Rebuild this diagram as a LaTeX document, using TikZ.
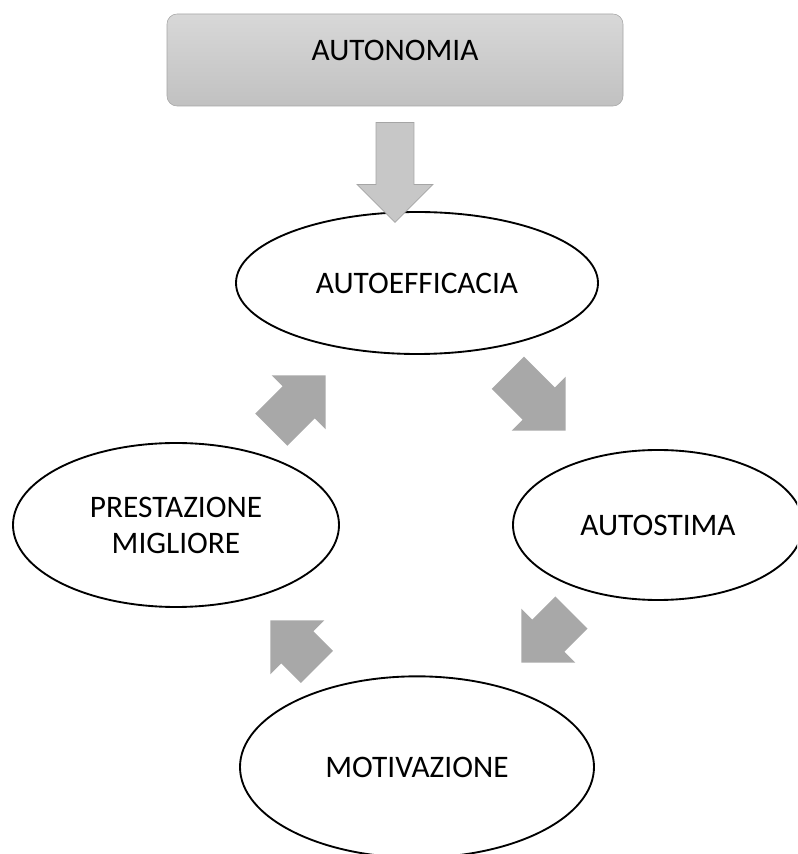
\documentclass[tikz,border=0pt]{standalone}
\usepackage{fontspec}
\setmainfont{Carlito}
\usepackage{tikz}
\usetikzlibrary{shapes.geometric}
\usetikzlibrary{shapes.arrows}
\definecolor{arrowgray}{RGB}{168,168,168}
\definecolor{downgray}{RGB}{199,199,199}
\definecolor{boxtop}{RGB}{216,216,216}
\definecolor{boxbottom}{RGB}{193,193,193}
\definecolor{boxline}{RGB}{165,165,165}

\begin{document}
\begin{tikzpicture}[x=0.75pt,y=0.75pt,
    stage/.style={draw,ellipse,line width=1.4pt,fill=white,inner sep=0pt,align=center,font=\fontsize{23.5}{27}\selectfont},
    cyclearrow/.style={single arrow,fill=arrowgray,anchor=tip,inner xsep=0pt,inner ysep=16.9pt,single arrow head extend=11.6pt,single arrow head indent=0pt,minimum width=0pt}]

    \useasboundingbox (0,0) rectangle (797,854);
    \clip (0,0) rectangle (797,854);

    %Top box
    \node[draw=boxline,rounded corners=7.5pt,top color=boxtop,bottom color=boxbottom,minimum width=342pt,minimum height=69pt,inner sep=0pt,text height=15pt,text depth=13.7pt,font=\fontsize{23.5}{27}\selectfont] (autonomia) at (395,794) {AUTONOMIA};

    %Cycle
    \node[stage,minimum width=271.5pt,minimum height=106.5pt] (autoefficacia) at (417,571) {AUTOEFFICACIA};
    \node[stage,minimum width=217.5pt,minimum height=112.5pt] (autostima) at (658,329) {AUTOSTIMA};
    \node[stage,minimum width=265.5pt,minimum height=136pt] (motivazione) at (417,87) {MOTIVAZIONE};
    \node[stage,minimum width=244.5pt,minimum height=123pt] (prestazione) at (176,329) {PRESTAZIONE\\MIGLIORE};

    %Arrows
    \node[single arrow,rotate=-90,anchor=tip,fill=downgray,draw=boxline,line width=0.6pt,inner xsep=0pt,inner ysep=13.9pt,single arrow head extend=14.25pt,single arrow head indent=0pt,minimum width=0pt,minimum height=75pt] (down) at (395,631) {};
    \node[cyclearrow,rotate=45,minimum height=57.75pt] (ne) at (326,479) {};
    \node[cyclearrow,rotate=-45,minimum height=61.5pt] (se) at (566,423) {};
    \node[cyclearrow,rotate=-135,minimum height=53.25pt] (sw) at (521,191) {};
    \node[cyclearrow,rotate=135,minimum height=49.5pt] (nw) at (270,234) {};

\end{tikzpicture}
\end{document}
